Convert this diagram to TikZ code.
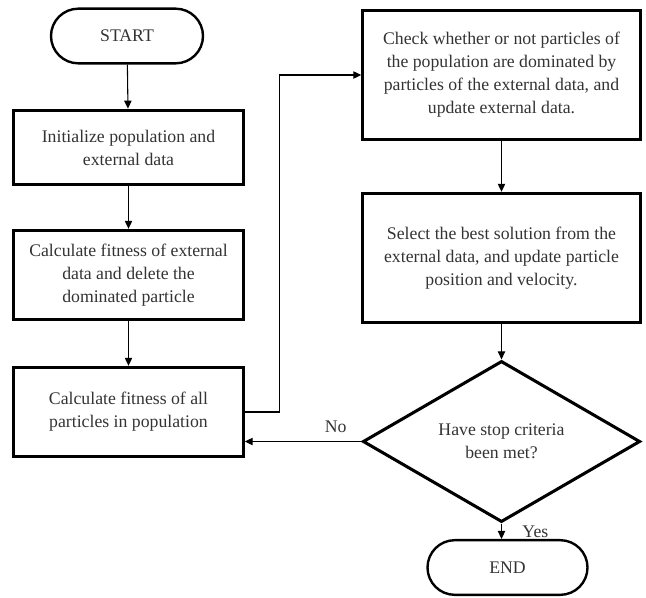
\documentclass[tikz,border=0pt]{standalone}
\usepackage{fontspec}
\setmainfont{Liberation Serif}
\usetikzlibrary{shapes.geometric,shapes.misc,arrows.meta,positioning}
\tikzset{
    base/.style={draw, line width=2.3pt, text=black!80, align=center,
        font=\fontsize{13.3}{17.3}\selectfont, inner sep=2pt},
    process/.style={base, rectangle, minimum width=172pt, minimum height=56pt},
    bigbox/.style={base, rectangle, minimum width=208pt, minimum height=97pt},
    terminal/.style={base, rounded rectangle, line width=1.8pt, minimum width=118pt, minimum height=41pt},
    decision/.style={base, diamond, minimum width=208pt, minimum height=92pt, inner sep=0pt},
    flow/.style={line width=0.8pt, -{Triangle[length=6pt,width=5.5pt]}},
    answer/.style={text=black!80, font=\fontsize{13.3}{15}\selectfont}
}

\begin{document}
\begin{tikzpicture}[x=0.75pt,y=-0.75pt]
    \useasboundingbox (0,0) rectangle (646,597);

    % Draw left column.
    \node[terminal] (start) at (127,36) {START};
    \node[process] (init) at (128.5,147.5) {Initialize population and\\external data};
    \node[process, minimum height=67pt] (calcext) at (128.5,275)
        {Calculate fitness of external\\data and delete the\\dominated particle};
    \node[process, minimum height=67pt] (calcall) at (128.5,412)
        {Calculate fitness of all\\particles in population};

    % Draw right column.
    \node[bigbox] (check) at (501.5,75)
        {Check whether or not particles of\\the population are dominated by\\particles of the external data, and\\update external data.};
    \node[bigbox] (select) at (501.5,258)
        {Select the best solution from the\\external data, and update particle\\position and velocity.};
    \node[decision] (stop) at (501.5,441.5) {Have stop criteria\\been met?};
    \node[terminal, minimum width=124pt] (end) at (507.5,567.5) {END};

    % Draw connectors.
    \foreach \a/\b in {start/init, init/calcext, calcext/calcall, check/select, select/stop}
        \draw[flow] (\a) -- (\b);
    \draw[flow] (calcall.east) -- ++(35,0) |- (check.west);
    \draw[flow] (stop.west) -- (calcall.east |- stop.west)
        node[pos=0.22, above=3pt, answer] {No};
    \draw[flow] (stop.south) -- (stop.south |- end.north)
        node[midway, right=12pt, answer] {Yes};
\end{tikzpicture}
\end{document}
